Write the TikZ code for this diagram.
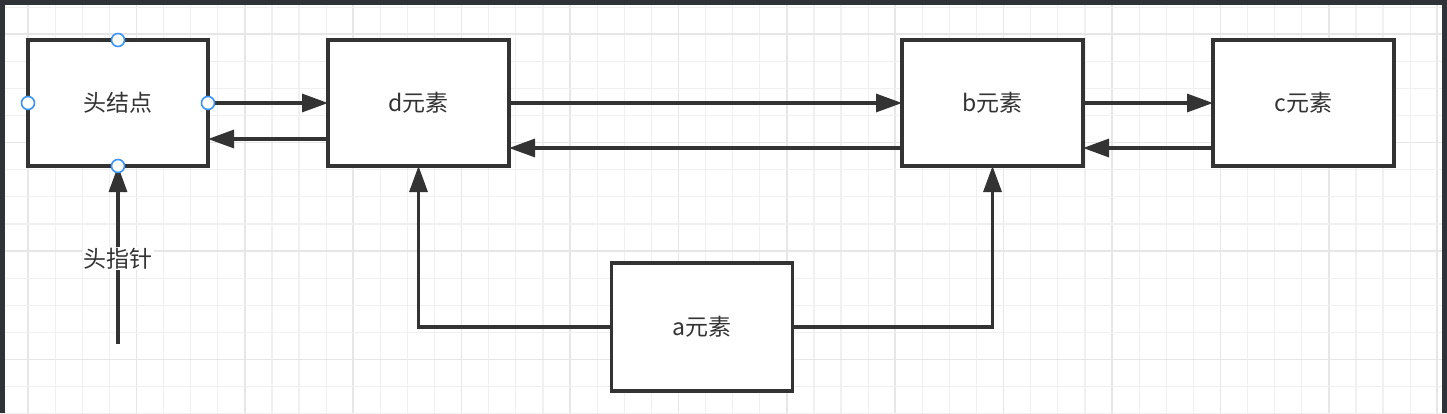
\documentclass[tikz,border=0pt]{standalone}
\usepackage{fontspec}
\newfontfamily\cjk{Noto Sans CJK SC}
\usetikzlibrary{arrows.meta}
\definecolor{ink}{HTML}{333333}
\definecolor{frame}{HTML}{2F3337}
\definecolor{gminor}{HTML}{F0F0F0}
\definecolor{gmajor}{HTML}{E6E6E6}
\definecolor{port}{HTML}{3D94F6}
\tikzset{
  box/.style={rectangle, draw=ink, line width=3.2pt, fill=white, minimum width=181pt,
    minimum height=126pt, inner sep=0pt, outer sep=0pt, text=ink, font=\cjk\fontsize{23}{27}\selectfont},
  arr/.style={draw=ink, line width=3.2pt, -{Triangle[length=26pt,width=18pt]}},
  lbl/.style={fill=white, text=ink, inner sep=1pt, font=\cjk\fontsize{23}{27}\selectfont},
  portc/.style={circle, draw=port, fill=white, line width=1.6pt, minimum size=13pt, inner sep=0pt}
}
\begin{document}
\begin{tikzpicture}[x=1pt,y=-1pt]
\useasboundingbox (0,0) rectangle (1447,413);
\fill[white] (0,0) rectangle (1447,413);
% grid
\foreach \k in {0,...,52}{
  \pgfmathsetmacro{\gx}{28+27.1*\k}
  \pgfmathtruncatemacro{\m}{mod(\k,4)}
  \ifnum\m=0
    \draw[gmajor, line width=1.5pt] (\gx,0) -- (\gx,413);
  \else
    \draw[gminor, line width=1.2pt] (\gx,0) -- (\gx,413);
  \fi
}
\foreach \k in {0,...,15}{
  \pgfmathsetmacro{\gy}{7.1+27.1*\k}
  \pgfmathtruncatemacro{\m}{mod(\k,4)}
  \ifnum\m=1
    \draw[gmajor, line width=1.5pt] (0,\gy) -- (1447,\gy);
  \else
    \draw[gminor, line width=1.2pt] (0,\gy) -- (1447,\gy);
  \fi
}
% frame
\fill[frame] (0,0) rectangle (1447,5);
\fill[frame] (0,0) rectangle (5,413);
\fill[frame] (1442,0) rectangle (1447,413);

% nodes
\node[box, minimum width=180pt] (hn) at (118,103) {头结点};
\node[box] (d) at (418.5,103) {d元素};
\node[box] (b) at (992.5,103) {b元素};
\node[box] (c) at (1303.5,103) {c元素};
\node[box, minimum height=128pt] (a) at (702,327) {a元素};
\coordinate (hp) at (118,344);

% connectors
\draw[arr] (hn.east) -- (d.west);
\draw[arr] ([yshift=-36pt]d.west) -- ([yshift=-36pt]hn.east);
\draw[arr] (d.east) -- (b.west);
\draw[arr] ([yshift=-45pt]b.west) -- ([yshift=-45pt]d.east);
\draw[arr] (b.east) -- (c.west);
\draw[arr] ([yshift=-45pt]c.west) -- ([yshift=-45pt]b.east);
\draw[arr] (a.west) -| (d.south);
\draw[arr] (a.east) -| (b.south);
\draw[arr] (hp) -- node[lbl, pos=0.48] (hplbl) {头指针} (hn.south);

% selection handles
\node[portc] (p1) at (hn.north) {};
\node[portc] (p2) at (hn.west) {};
\node[portc] (p3) at (hn.east) {};
\node[portc] (p4) at (hn.south) {};
\end{tikzpicture}
\end{document}
